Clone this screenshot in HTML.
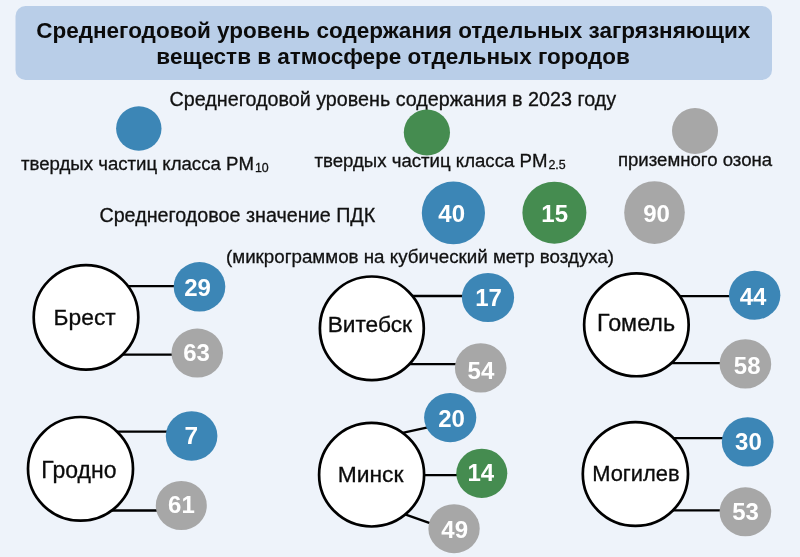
<!DOCTYPE html>
<html lang="ru">
<head>
<meta charset="utf-8">
<title>Среднегодовой уровень содержания</title>
<style>
html,body{margin:0;padding:0;background:#eef3fa;}
body{width:800px;height:557px;overflow:hidden;}
svg{display:block;}
text{font-family:"Liberation Sans",Arial,sans-serif;}
.t{font-weight:bold;font-size:22.5px;fill:#0b0b0b;text-anchor:middle;}
.s{font-size:19.74px;fill:#111;stroke:#111;stroke-width:.3;}
.l{font-size:18.63px;fill:#111;stroke:#111;stroke-width:.3;}
.u{font-size:18.75px;fill:#111;stroke:#111;stroke-width:.3;}
.c{font-size:22.7px;fill:#0b0b0b;text-anchor:middle;stroke:#0b0b0b;stroke-width:.3;}
.n{font-size:23.9px;font-weight:bold;fill:#fff;text-anchor:middle;}
.ln{stroke:#000;stroke-width:2.3;fill:none;}
.city{fill:#fff;stroke:#000;stroke-width:2.7;}
.b{fill:#3c86b6;}
.g{fill:#458c50;}
.y{fill:#a7a7a7;}
</style>
</head>
<body>
<svg width="800" height="557" viewBox="0 0 800 557">
<rect x="0" y="0" width="800" height="557" fill="#eef3fa"/>
<rect x="15.5" y="6" width="756.5" height="74" rx="10" ry="10" fill="#b9cee8"/>
<text class="t" x="393.3" y="38.4">Среднегодовой уровень содержания отдельных загрязняющих</text>
<text class="t" x="393.1" y="64.4">веществ в атмосфере отдельных городов</text>

<text class="s" x="169.5" y="105.6">Среднегодовой уровень содержания в 2023 году</text>

<ellipse class="b" cx="138.8" cy="128.5" rx="22.7" ry="22.3"/>
<ellipse class="g" cx="426.9" cy="132.5" rx="23.1" ry="23"/>
<ellipse class="y" cx="695" cy="131" rx="23" ry="22.9"/>

<text class="l" x="21" y="169.8">твердых частиц класса PM<tspan font-size="12.4" dy="2.2" dx="1">10</tspan></text>
<text class="l" x="314.5" y="167">твердых частиц класса PM<tspan font-size="12.4" dy="2.2" dx="1">2.5</tspan></text>
<text class="l" x="617.9" y="165.6">приземного озона</text>

<text class="s" x="99.4" y="222.4">Среднегодовое значение ПДК</text>
<ellipse class="b" cx="453.4" cy="212.9" rx="31.6" ry="31.4"/>
<ellipse class="g" cx="554.4" cy="212.7" rx="32" ry="31"/>
<ellipse class="y" cx="654.5" cy="212.6" rx="30.3" ry="31.4"/>
<text class="n" x="451.7" y="222" textLength="26.7" lengthAdjust="spacingAndGlyphs">40</text>
<text class="n" x="554.7" y="222" textLength="26.7" lengthAdjust="spacingAndGlyphs">15</text>
<text class="n" x="656.5" y="222" textLength="26.7" lengthAdjust="spacingAndGlyphs">90</text>

<text class="u" x="226" y="262.6">(микрограммов на кубический метр воздуха)</text>

<!-- Брест -->
<path class="ln" d="M120 286.2H176M120 354.7H173"/>
<ellipse class="city" cx="86" cy="317.35" rx="52.3" ry="52.25"/>
<text class="c" x="84.7" y="325" style="font-size:22.8px">Брест</text>
<ellipse class="b" cx="199.5" cy="286.8" rx="25.8" ry="24.8"/>
<text class="n" x="197.6" y="296" textLength="26.7" lengthAdjust="spacingAndGlyphs">29</text>
<ellipse class="y" cx="197.25" cy="353.1" rx="25.8" ry="24.5"/>
<text class="n" x="196.5" y="361" textLength="26.7" lengthAdjust="spacingAndGlyphs">63</text>

<!-- Гродно -->
<path class="ln" d="M110 431.7H168M110 510.5H158"/>
<ellipse class="city" cx="80.5" cy="468.85" rx="52.5" ry="51.85"/>
<text class="c" x="78.9" y="477.9" style="font-size:23.0px">Гродно</text>
<ellipse class="b" cx="191.6" cy="435.95" rx="25.8" ry="24.8"/>
<text class="n" x="191.4" y="444" textLength="13.6" lengthAdjust="spacingAndGlyphs">7</text>
<ellipse class="y" cx="181.3" cy="505.5" rx="25.5" ry="24.6"/>
<text class="n" x="181.4" y="513" textLength="26.7" lengthAdjust="spacingAndGlyphs">61</text>

<!-- Витебск -->
<path class="ln" d="M400 296H465M400 364.2H458"/>
<ellipse class="city" cx="371.85" cy="328.35" rx="51.95" ry="51.85"/>
<text class="c" x="369.8" y="332" style="font-size:22.7px">Витебск</text>
<ellipse class="b" cx="488" cy="297.5" rx="26.1" ry="24.6"/>
<text class="n" x="488.6" y="306" textLength="26.7" lengthAdjust="spacingAndGlyphs">17</text>
<ellipse class="y" cx="480.7" cy="367.9" rx="25.8" ry="24.7"/>
<text class="n" x="480.9" y="378.5" textLength="26.7" lengthAdjust="spacingAndGlyphs">54</text>

<!-- Минск -->
<path class="ln" d="M398 433.9L430 426.85M420 475.2H458M398 511.85L432 523.9"/>
<ellipse class="city" cx="371.6" cy="474.7" rx="52.5" ry="51.8"/>
<text class="c" x="370.6" y="482.3" style="font-size:22.8px">Минск</text>
<ellipse class="b" cx="450.2" cy="417.6" rx="26.1" ry="24.6"/>
<text class="n" x="451.6" y="427" textLength="26.7" lengthAdjust="spacingAndGlyphs">20</text>
<ellipse class="g" cx="481.8" cy="473.35" rx="25.5" ry="24.6"/>
<text class="n" x="480.8" y="481" textLength="26.7" lengthAdjust="spacingAndGlyphs">14</text>
<ellipse class="y" cx="454.05" cy="528.7" rx="25.65" ry="24.5"/>
<text class="n" x="454.7" y="538" textLength="26.7" lengthAdjust="spacingAndGlyphs">49</text>

<!-- Гомель -->
<path class="ln" d="M670 296.2H732M670 363.2H723"/>
<ellipse class="city" cx="636.4" cy="324.8" rx="52.25" ry="51.45"/>
<text class="c" x="636.1" y="330.7" style="font-size:23.3px">Гомель</text>
<ellipse class="b" cx="754.65" cy="295.3" rx="25.7" ry="24.5"/>
<text class="n" x="753.1" y="305" textLength="26.7" lengthAdjust="spacingAndGlyphs">44</text>
<ellipse class="y" cx="745.4" cy="363.9" rx="25.8" ry="24.7"/>
<text class="n" x="747.2" y="374" textLength="26.7" lengthAdjust="spacingAndGlyphs">58</text>

<!-- Могилев -->
<path class="ln" d="M670 438.1H725M670 510.3H723"/>
<ellipse class="city" cx="635.4" cy="474" rx="52.6" ry="51.9"/>
<text class="c" x="635.9" y="480.9" style="font-size:21.9px">Могилев</text>
<ellipse class="b" cx="747.7" cy="441.9" rx="25.9" ry="24.7"/>
<text class="n" x="748.4" y="450" textLength="26.7" lengthAdjust="spacingAndGlyphs">30</text>
<ellipse class="y" cx="745.4" cy="511.8" rx="25.8" ry="24.5"/>
<text class="n" x="745.6" y="520" textLength="26.7" lengthAdjust="spacingAndGlyphs">53</text>
</svg>
</body>
</html>
